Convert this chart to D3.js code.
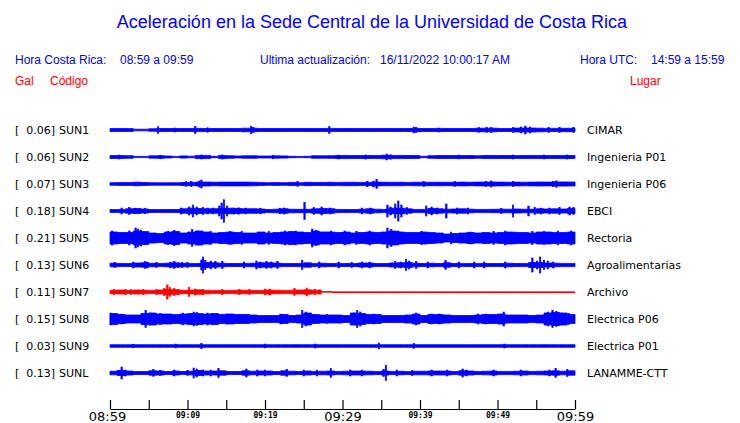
<!DOCTYPE html>
<html><head><meta charset="utf-8">
<script src="https://cdn.jsdelivr.net/npm/d3@7"></script>
<style>body{margin:0;background:#fff;overflow:hidden}</style></head>
<body><svg id="c" width="740" height="423"></svg>
<script>
// ---------------- DATA ----------------
const codes  = ["SUN1","SUN2","SUN3","SUN4","SUN5","SUN6","SUN7","SUN8","SUN9","SUNL"];
const gal    = [0.06,0.06,0.07,0.18,0.21,0.13,0.11,0.15,0.03,0.13];
const places = ["CIMAR","Ingenieria P01","Ingenieria P06","EBCI","Rectoria","Agroalimentarias","Archivo","Electrica P06","Electrica P01","LANAMME-CTT"];
const status = ["live","live","live","live","live","live","archivo","live","live","live"];
const tickMinutes = [0,5,10,15,20,25,30,35,40,45,50,55,60];
const tickLabels  = ["08:59","","09:09","","09:19","","09:29","","09:39","","09:49","","09:59"];
const majorTicks  = ["08:59","09:29","09:59"];

// envelope (half amplitude, relative units) per minute bin, 08:59 -> 09:59
const env1 = [1.5,1.5,1.4,0.8,0.8,1.2,1.5,1.5,1.5,1.5, 1.5,1.6,1.5,1.5,1.5,1.5,1.5,1.8,1.8,1.5, 1.5,1.5,1.5,1.5,1.5,1.5,1.5,1.5,1.6,1.5, 1.5,1.5,1.5,1.5,1.5,1.5,1.5,1.5,1.5,1.7, 1.5,1.5,1.6,1.5,1.5,1.5,1.5,1.7,1.8,1.8, 1.5,1.5,1.9,2.0,2.0,1.8,1.6,1.6,1.7,1.7];
const env2 = [1.5,1.5,1.3,0.6,0.6,1.2,1.3,1.0,0.6,1.1, 0.8,1.6,1.6,0.7,1.6,1.3,1.0,1.2,1.3,1.0, 1.0,1.2,1.1,0.7,0.6,0.7,1.3,1.2,1.3,1.5, 1.6,1.4,1.5,1.5,1.6,1.8,1.6,1.6,1.5,1.4, 0.7,1.3,1.5,1.5,1.4,1.5,1.5,1.3,1.5,1.6, 1.5,1.5,1.4,1.5,1.6,1.5,1.5,1.5,1.6,1.5];
const env3 = [1.3,1.5,1.4,1.8,1.5,1.3,1.2,1.3,1.2,1.5, 1.6,1.9,2.0,1.8,1.9,1.9,1.9,1.9,1.8,1.6, 1.3,1.4,1.3,1.6,1.3,1.7,1.5,1.6,1.7,1.6, 1.8,1.7,1.6,1.7,1.9,1.8,1.7,1.8,1.6,1.8, 1.8,1.7,1.8,1.7,1.8,1.9,1.8,1.9,2.0,2.0, 1.9,1.8,1.9,1.8,1.9,2.0,1.9,2.0,2.1,2.0];
const env4 = [1.5,1.6,2.2,2.5,2.0,1.5,1.5,1.5,1.5,2.2, 2.8,2.5,2.2,2.3,2.5,2.8,2.5,2.2,2.3,2.0, 1.6,1.8,2.2,1.8,1.7,1.7,2.2,2.5,2.3,1.6, 1.5,1.5,1.8,2.2,1.8,1.6,2.8,2.8,2.2,1.6, 1.6,2.5,2.2,1.8,2.0,2.2,1.8,1.6,1.6,1.7, 1.8,1.8,2.0,1.8,1.8,2.2,2.0,2.2,2.0,2.5];
const env5 = [6,5.5,5.5,7,6.5,5,4.5,6,6.5,5, 6,7,6,5,5.5,6,5.5,5,5,6, 5,5.5,6,6.5,6,5.5,7,6,6,5.5, 6,5,5.5,6,5.5,6,7,6,5.5,5.5, 6,5.5,5,4,4.5,5,5.5,5,5.5,5, 5.5,6,5.5,5.5,5,6,6,5.5,5.5,6];
const env6 = [1.8,1.6,1.5,2.0,2.2,1.8,1.6,1.8,2.2,1.8, 1.6,1.5,2.5,2.2,1.8,1.5,1.5,1.6,1.8,2.2, 2.2,2.0,1.6,1.5,1.6,2.2,1.6,1.8,1.5,1.6, 1.5,1.5,2.0,2.0,1.5,1.5,2.0,2.2,2.5,1.8, 1.5,1.8,1.5,2.2,1.5,1.6,1.5,1.6,1.5,1.5, 1.5,1.8,1.5,1.6,2.5,2.5,2.0,1.8,1.6,1.6];
const env7 = [1.8,2.0,1.6,2.0,1.8,1.6,2.0,2.5,2.2,1.8, 2.0,2.2,1.8,1.6,1.6,1.6,1.8,1.8,1.6,1.6, 2.0,1.8,1.6,1.8,2.0,2.2,1.8,0,0,0, 0,0,0,0,0,0,0,0,0,0, 0,0,0,0,0,0,0,0,0,0, 0,0,0,0,0,0,0,0,0,0];
const env8 = [5.5,4.5,4,4,5.5,6,5,5,4.5,5, 5.5,5.5,5,5.5,4.5,5,4.5,4.5,4,3.5, 3.5,3.5,4.5,3.5,4,6,4.5,4,4,4, 3.5,6,5.5,4.5,4.5,3.5,3.5,3.5,4,5, 3.5,4.5,4.5,4,3.5,3.5,3.5,4,4.5,4.5, 5,4,4,4,3.5,4,6,6.5,6,4.5];
const env9 = [1.3,1.3,1.3,1.3,1.3,1.3,1.3,1.3,1.3,1.3, 1.3,1.3,1.3,1.3,1.3,1.3,1.3,1.3,1.3,1.3, 1.3,1.3,1.3,1.3,1.3,1.3,1.3,1.3,1.3,1.3, 1.3,1.3,1.3,1.3,1.3,1.3,1.3,1.3,1.3,1.3, 1.3,1.3,1.3,1.3,1.3,1.3,1.3,1.3,1.3,1.3, 1.3,1.3,1.3,1.3,1.3,1.3,1.3,1.3,1.3,1.3];
const env10 = [1.8,2.5,2,1.5,1.5,2.2,2,1.5,2,1.5, 1.8,2.5,2,2,2.2,1.5,1.5,2.2,1.8,2, 2,1.5,2.2,1.8,1.5,2,1.6,1.8,2,1.6, 1.8,2,2,1.8,1.6,2,1.6,1.8,1.5,1.8, 1.8,2,2,2,1.6,2.2,2,1.6,1.8,2, 1.6,1.6,1.8,2,1.6,1.8,2,2.2,1.8,2.2];

// individual peaks [minute, half amplitude]
const spk1 = [[6.2,3.3],[8.4,2],[11,3.5],[12.6,2.2],[18.2,3.8],[18.5,2.5],[28.3,3.3],[39.2,3],[39.5,2.5],[42.4,2],[47.6,2.5],[48.6,2.5],[49.2,2.5],[52.0,2.5],[53,3],[53.6,4],[54.2,3],[56.6,2.5],[58,2.5],[59.8,2.5]];
const spk2 = [[1.2,2],[6.5,1.8],[11.8,2],[14.5,2],[21,1.8],[29.5,2],[33,2.1],[35.7,3],[36.2,2.2],[45,2],[52,2],[56,2],[59,2]];
const spk3 = [[9.8,2.5],[10.5,2.6],[11.5,3],[11.8,4],[24.2,2.5],[33.2,2.8],[34.0,3],[34.4,4.5],[40.5,2.5],[44.5,2.6],[48.5,2.6],[49.2,3],[52,2.5],[57.2,2.6],[57.6,3.2]];
const spk4 = [[1.5,3],[2.5,3.5],[3.2,2.8],[4.5,2.8],[9.2,3],[10.2,4],[10.7,6],[11.2,4],[12,3.5],[12.6,3],[13.3,3],[14.1,5],[14.4,8],[14.7,11.3],[15.1,5],[16,3],[16.6,3.2],[17.5,3],[19.4,2.8],[21.9,2.8],[22.5,3],[25.1,8.5],[26.3,3.5],[27.3,4],[28.4,3],[32.5,3],[33.6,3],[35.8,6],[36.2,4],[36.8,7],[37.2,10],[37.6,6],[38.3,3.5],[40.8,5],[41.5,4],[42.2,3],[43.4,7],[44.8,3],[46.2,3],[50.5,2.6],[52,6],[54,5],[54.8,3.5],[55.6,3],[56.7,3],[58,3.5],[59.3,4],[59.8,3.5]];
const spk5 = [[0.3,7],[2.5,7],[3.3,10],[3.6,9],[4,8],[7.5,6.5],[8.3,7.5],[10.6,8.5],[11.3,7],[13,6.5],[15.5,6.5],[17,6.5],[20.5,6.5],[22.6,7],[24,7],[26.1,9],[26.6,7.5],[28.5,7],[30.3,7],[31.8,6.5],[33.5,7],[35.8,10],[36.3,8.5],[37.2,7],[40.2,6.5],[44,6],[46.5,6],[49.5,6.5],[51,7],[52.3,6],[54.5,6.5],[56,6.5],[57.8,7],[59.5,7]];
const spk6 = [[0.6,2.5],[3,3],[4.5,3.5],[4.8,3],[6,2.5],[7.8,3],[8.3,3.5],[9.3,2.5],[10,2.5],[11.8,5],[12,8],[12.3,4.5],[13,4],[13.6,3.5],[14.5,3.5],[17.3,3],[18.9,4],[19.4,3],[20.2,3.5],[20.8,3],[21.6,3.5],[24.8,4.5],[27,3],[29.5,3],[31.2,2.6],[32.5,3],[33.5,3],[36.8,3.5],[37.5,3],[38.2,5.5],[38.6,4],[39.5,3.5],[41,3],[43.3,4.5],[45,3],[47,3],[48.3,3],[51,3],[54.5,7],[55.1,4],[55.5,8],[56,4.5],[56.5,4],[57.2,3]];
const spk7 = [[0.5,2.5],[2,2.5],[2.7,2.5],[4.3,2.5],[6,2.5],[7.0,3.5],[7.4,7],[7.7,4.5],[8.3,3.5],[8.8,2.6],[10.2,4.5],[11,3],[12,2.5],[14.5,2.5],[16.7,2.5],[18,2.5],[20,3],[20.6,3],[23.8,3.5],[25.4,4],[26.4,2.5],[27.05,2],[27.15,2]];
const spk8 = [[0.1,6],[1.5,5],[4.6,8.5],[5.2,6],[6.5,5.5],[9.4,6],[10.8,7],[11.2,6.5],[12.6,6],[13.2,5.5],[15,5],[16.8,4.5],[22,5],[24.8,8.5],[25.3,7],[25.8,5.5],[28,4.5],[31.5,6],[31.9,8.5],[32.3,7],[34,5],[39.5,6],[41.5,5],[42.5,5],[47.5,5],[48.5,5],[50.8,7],[56.5,7],[57.1,8.5],[57.6,7.5],[58.3,6],[59.2,5.5]];
const spk9 = [[3,1.8],[8.5,2],[11.8,2.7],[20,2],[26.5,2],[34.7,3],[39.2,2.5],[50.9,2]];
const spk10 = [[1,2.5],[1.5,6],[2,3],[5.6,3.5],[6.5,2.5],[8.3,3],[10,2.5],[10.8,5],[11.2,4],[12,3],[13,3],[14,4.5],[17.6,4],[19,3],[20,3],[22.8,3.5],[25,3],[26.7,3],[28.5,4.5],[31,3],[32.5,3],[35.3,3.5],[35.6,7.5],[37,3],[39,2.5],[41.5,3],[43.5,3],[45.5,4],[46,3],[49.5,3],[53,3],[56.7,3],[57.5,4.5],[59,3.5]];

// flat (no-signal) segments of the archive trace: [from, to, offset]
const flat7 = [[27.2,28.7,1],[28.7,60,0]];

const envs   = [env1,env2,env3,env4,env5,env6,env7,env8,env9,env10];
const spikes = [spk1,spk2,spk3,spk4,spk5,spk6,spk7,spk8,spk9,spk10];
const flats  = [[],[],[],[],[],[],flat7,[],[],[]];

// ---------------- DRAW ----------------
const BLUE = "#0000ff", RED = "#ff0000";
const svg = d3.select("#c");
const x = d3.scaleLinear().domain([0,60]).range([110,575]);
const row = d3.scalePoint().domain(codes).range([130,373]);
const amp = d3.scaleLinear().domain([-12,12]).range([12,-12]);

svg.append("text").attr("x",372).attr("y",28).attr("text-anchor","middle")
  .attr("font-family","Liberation Sans, Arial, sans-serif").attr("font-size",18).attr("fill",BLUE)
  .text("Aceleración en la Sede Central de la Universidad de Costa Rica");

const hdr = [
  {t:"Hora Costa Rica:", x:15, y:64, c:BLUE},
  {t:"08:59 a 09:59", x:120, y:64, c:BLUE},
  {t:"Ultima actualización:", x:260, y:64, c:BLUE},
  {t:"16/11/2022 10:00:17 AM", x:380, y:64, c:BLUE},
  {t:"Hora UTC:", x:580, y:64, c:BLUE},
  {t:"14:59 a 15:59", x:651, y:64, c:BLUE},
  {t:"Gal", x:15, y:85, c:RED},
  {t:"Código", x:50, y:85, c:RED},
  {t:"Lugar", x:630, y:85, c:RED}
];
svg.selectAll("text.hdr").data(hdr).join("text").attr("class","hdr")
  .attr("x",d=>d.x).attr("y",d=>d.y).attr("fill",d=>d.c)
  .attr("font-family","Liberation Sans, Arial, sans-serif").attr("font-size",12)
  .text(d=>d.t);

const area = d3.area().x(d=>x(d[0])).y0(d=>amp(-d[1])).y1(d=>amp(d[1])).curve(d3.curveStepAfter);

codes.forEach((code,i)=>{
  const col = status[i]==="archivo" ? RED : BLUE;
  const g = svg.append("g").attr("transform",`translate(0,${row(code)})`);
  const pts = envs[i].map((v,k)=>[k,v]); pts.push([60, envs[i][59]]);
  g.append("path").datum(pts).attr("d",area).attr("fill",col)
    .attr("stroke",col).attr("stroke-width",0.8).attr("stroke-linejoin","miter");
  g.selectAll("rect.sp").data(spikes[i]).join("rect").attr("class","sp")
    .attr("x",d=>x(d[0])-0.7).attr("width",1.4)
    .attr("y",d=>amp(d[1])).attr("height",d=>amp(-d[1])-amp(d[1]))
    .attr("fill",col).attr("stroke",col).attr("stroke-width",0.6);
  g.selectAll("line.fl").data(flats[i]).join("line").attr("class","fl")
    .attr("x1",d=>x(d[0])).attr("x2",d=>x(d[1]))
    .attr("y1",d=>amp(d[2])+0.5).attr("y2",d=>amp(d[2])+0.5)
    .attr("stroke",col).attr("stroke-width",1).attr("shape-rendering","crispEdges");

  const lf = {"font-family":"DejaVu Sans, sans-serif","font-size":11,"fill":"#000"};
  const t1 = g.append("text").attr("x",15).attr("y",4).text("[");
  const t2 = g.append("text").attr("x",55).attr("y",4).attr("text-anchor","end").text(gal[i].toFixed(2)+"]");
  const t3 = g.append("text").attr("x",59).attr("y",4).text(code);
  const t4 = g.append("text").attr("x",587).attr("y",4).text(places[i]);
  [t1,t2,t3,t4].forEach(t=>Object.entries(lf).forEach(([k,v])=>t.attr(k,v)));
});

// time axis
const xt = d3.scaleLinear().domain([0,60]).range([110,575]);
const axis = d3.axisBottom(xt).tickValues(tickMinutes).tickSizeInner(-9).tickSizeOuter(0).tickPadding(5)
  .tickFormat((d,i)=>tickLabels[i]);
const ax = svg.append("g").attr("transform","translate(0,409)").call(axis);
ax.select(".domain").attr("stroke","#000").attr("stroke-width",1.2);
ax.selectAll(".tick line").attr("stroke","#000").attr("stroke-width",1.2);
ax.selectAll(".tick text").attr("fill","#000").attr("dy",null)
  .each(function(d,i){
    const s = d3.select(this);
    if (majorTicks.includes(tickLabels[i])) {
      s.attr("font-family","DejaVu Sans, sans-serif").attr("font-size",13).attr("y",12)
       .attr("dx", i===0 ? -3 : 0);
    } else {
      s.attr("font-family","DejaVu Sans Mono, monospace").attr("font-size",8).attr("font-weight","bold").attr("y",9);
    }
  });
</script></body></html>
